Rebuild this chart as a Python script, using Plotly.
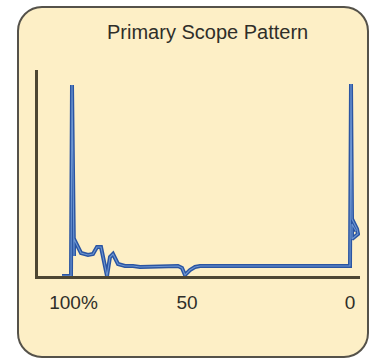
import plotly.graph_objects as go

# Data: position along the cable (arbitrary units) and reflected amplitude
distance = [24, 33, 34, 36, 36, 43, 50, 55, 59, 63, 69, 72, 75, 80, 87, 95, 102,
            140, 144, 147, 152, 157, 162, 312, 313, 314, 319, 320, 314, 314, 318]
amplitude = [0, 0, 191, 20, 37, 23, 21, 22, 29, 29, 0, 19, 22, 12, 10, 10, 9,
             10, 8, 1, 6, 9, 10, 10, 192, 57, 47, 42, 37, 52, 45]
tick_positions = [35.5, 149, 312]
tick_labels = ["100%", "50", "0"]
title_text = "Primary Scope Pattern"

W, H = 373, 361
L, R, T, B = 38, 13, 70, 85
PW, PH = W - L - R, H - T - B

def fx(px):
    return (px - L) / PW

def fy(py):
    return (H - B - py) / PH

# rounded rectangle frame (pixel geometry -> paper coords)
x0, y0, x1, y1, r = 18, 7, 368, 357, 24
k = 0.5523 * r
def P(px, py):
    return f"{fx(px):.5f},{fy(py):.5f}"
path = (
    f"M {P(x0 + r, y0)} L {P(x1 - r, y0)} "
    f"C {P(x1 - r + k, y0)} {P(x1, y0 + r - k)} {P(x1, y0 + r)} "
    f"L {P(x1, y1 - r)} "
    f"C {P(x1, y1 - r + k)} {P(x1 - r + k, y1)} {P(x1 - r, y1)} "
    f"L {P(x0 + r, y1)} "
    f"C {P(x0 + r - k, y1)} {P(x0, y1 - r + k)} {P(x0, y1 - r)} "
    f"L {P(x0, y0 + r)} "
    f"C {P(x0, y0 + r - k)} {P(x0 + r - k, y0)} {P(x0 + r, y0)} Z"
)

fig = go.Figure()
fig.add_trace(go.Scatter(x=distance, y=amplitude, mode="lines",
                         line=dict(color="#2b55a2", width=4), hoverinfo="skip"))
fig.add_trace(go.Scatter(x=distance, y=amplitude, mode="lines",
                         line=dict(color="#6d96d2", width=1.1), hoverinfo="skip"))

fig.add_shape(type="path", path=path, xref="paper", yref="paper",
              fillcolor="#fdefc6", line=dict(color="#55524a", width=2), layer="below")

fig.add_annotation(text=title_text, x=fx(207), y=fy(32), xref="paper", yref="paper",
                   xanchor="center", yanchor="middle", showarrow=False,
                   font=dict(family="Liberation Sans, Arial, sans-serif", size=20, color="#2f2e29"))

fig.update_layout(
    width=W, height=H,
    margin=dict(l=L, r=R, t=T, b=B),
    paper_bgcolor="white", plot_bgcolor="rgba(0,0,0,0)",
    showlegend=False,
    xaxis=dict(range=[0, PW], showgrid=False, zeroline=False, showline=True,
               linecolor="#4d4632", linewidth=2.5, tickmode="array",
               tickvals=tick_positions, ticktext=tick_labels, ticks="",
               ticklabelstandoff=7,
               tickfont=dict(family="Liberation Sans, Arial, sans-serif", size=19, color="#2f2e29"),
               fixedrange=True),
    yaxis=dict(range=[0, PH], showgrid=False, zeroline=False, showline=True,
               linecolor="#4d4632", linewidth=2.5, showticklabels=False, ticks="",
               fixedrange=True),
)

fig.write_html("out.html", config={"displayModeBar": False},
               post_script="document.body.style.margin='0px';document.body.style.overflow='hidden';")
